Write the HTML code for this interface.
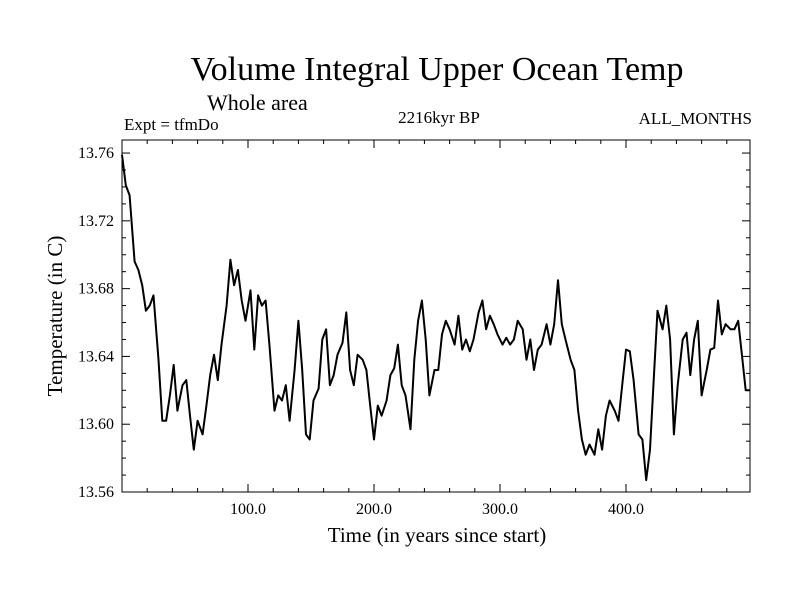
<!DOCTYPE html>
<html><head><meta charset="utf-8"><style>
body{margin:0;background:#fff}
svg text{font-family:"Liberation Serif",serif;fill:#000}
</style></head><body>
<svg id="chart" width="800" height="600">
<text x="437" y="80" font-size="34" text-anchor="middle">Volume Integral Upper Ocean Temp</text>
<text x="207" y="110" font-size="22">Whole area</text>
<text x="124" y="130" font-size="17">Expt = tfmDo</text>
<text x="439" y="123" font-size="17" text-anchor="middle">2216kyr BP</text>
<text x="752" y="124" font-size="17" text-anchor="end">ALL_MONTHS</text>
<text x="437" y="542" font-size="21" text-anchor="middle">Time (in years since start)</text>
<text transform="translate(62,316) rotate(-90)" font-size="21" text-anchor="middle">Temperature (in C)</text>
<g id="axes"></g>
<path id="line" fill="none" stroke="#000" stroke-width="2" stroke-linejoin="round"/>
<rect x="122" y="140" width="628" height="352" fill="none" stroke="#000" stroke-width="1"/>
</svg>
<script>
const years=[0,3,6,10,13,16,19,22,25,29,32,35,38,41,44,48,51,54,57,60,64,67,70,73,76,79,83,86,89,92,95,98,102,105,108,111,114,117,121,124,127,130,133,137,140,143,146,149,152,156,159,162,165,168,171,175,178,181,184,187,191,194,197,200,203,206,210,213,216,219,222,225,229,232,235,238,241,244,248,251,254,257,260,264,267,270,273,276,279,283,286,289,292,295,298,302,305,308,311,314,318,321,324,327,330,333,337,340,343,346,349,352,356,359,362,365,368,371,375,378,381,384,387,391,394,397,400,403,406,410,413,416,419,422,425,429,432,435,438,441,445,448,451,454,457,460,464,467,470,473,476,479,483,486,489,492,495,498];
const temps=[13.759,13.741,13.735,13.696,13.691,13.682,13.667,13.670,13.676,13.638,13.602,13.602,13.617,13.635,13.608,13.623,13.626,13.605,13.585,13.602,13.594,13.611,13.629,13.641,13.626,13.647,13.670,13.697,13.682,13.691,13.673,13.661,13.679,13.644,13.676,13.670,13.673,13.647,13.608,13.617,13.614,13.623,13.602,13.632,13.661,13.632,13.594,13.591,13.614,13.621,13.650,13.656,13.623,13.629,13.641,13.648,13.666,13.632,13.623,13.641,13.638,13.632,13.611,13.591,13.611,13.605,13.614,13.629,13.633,13.647,13.623,13.617,13.597,13.638,13.661,13.673,13.650,13.617,13.632,13.632,13.653,13.661,13.656,13.647,13.664,13.644,13.650,13.643,13.650,13.666,13.673,13.656,13.664,13.659,13.653,13.647,13.651,13.647,13.650,13.661,13.656,13.638,13.650,13.632,13.644,13.647,13.659,13.647,13.659,13.685,13.659,13.650,13.638,13.632,13.608,13.591,13.582,13.588,13.582,13.597,13.585,13.605,13.614,13.608,13.602,13.623,13.644,13.643,13.626,13.594,13.591,13.567,13.585,13.626,13.667,13.656,13.670,13.650,13.594,13.623,13.650,13.654,13.629,13.650,13.661,13.617,13.632,13.644,13.645,13.673,13.653,13.659,13.656,13.656,13.661,13.641,13.620,13.620];
const xTickVals=[100,200,300,400];
const xTickLabels=["100.0","200.0","300.0","400.0"];
const yTickVals=[13.56,13.60,13.64,13.68,13.72,13.76];
const yTickLabels=["13.56","13.60","13.64","13.68","13.72","13.76"];
const X0=122,X1=750,Y0=492,Y1=140,xMin=0,xMax=498.4,yMin=13.56,yMax=13.7677;
const sx=v=>X0+(v-xMin)/(xMax-xMin)*(X1-X0);
const sy=v=>Y0-(v-yMin)/(yMax-yMin)*(Y0-Y1);
const NS='http://www.w3.org/2000/svg';
const axes=document.getElementById('axes');
function ln(x1,y1,x2,y2,name){const l=document.createElementNS(NS,'line');
l.setAttribute('x1',x1);l.setAttribute('y1',y1);l.setAttribute('x2',x2);l.setAttribute('y2',y2);
l.setAttribute('stroke','#000');l.setAttribute('stroke-width','1');


axes.appendChild(l);}
function tx(x,y,s,anchor,name){const t=document.createElementNS(NS,'text');
t.setAttribute('x',x);t.setAttribute('y',y);t.setAttribute('font-size','16');t.setAttribute('text-anchor',anchor);t.textContent=s;


axes.appendChild(t);}
for(let v=20;v<xMax;v+=20){const x=sx(v),major=v%100===0,L=major?8:4;
ln(x,Y0,x,Y0-L,'x-tick');ln(x,Y1,x,Y1+L,'x-tick-top');}
xTickVals.forEach((v,i)=>tx(sx(v),Y0+22,xTickLabels[i],'middle','x-tick-label'));
for(let k=0;k<=20;k++){const v=yMin+k*0.01,y=sy(v),major=k%4===0,L=major?8:4;
ln(X0,y,X0+L,y,'y-tick');ln(X1,y,X1-L,y,'y-tick-right');}
yTickVals.forEach((v,i)=>tx(X0-8,sy(v)+5,yTickLabels[i],'end','y-tick-label'));
const n=Math.min(years.length,temps.length);
let d='';for(let i=0;i<n;i++)d+=(i?'L':'M')+sx(years[i]).toFixed(1)+','+sy(temps[i]).toFixed(1);
document.getElementById('line').setAttribute('d',d);
</script>
</body></html>
